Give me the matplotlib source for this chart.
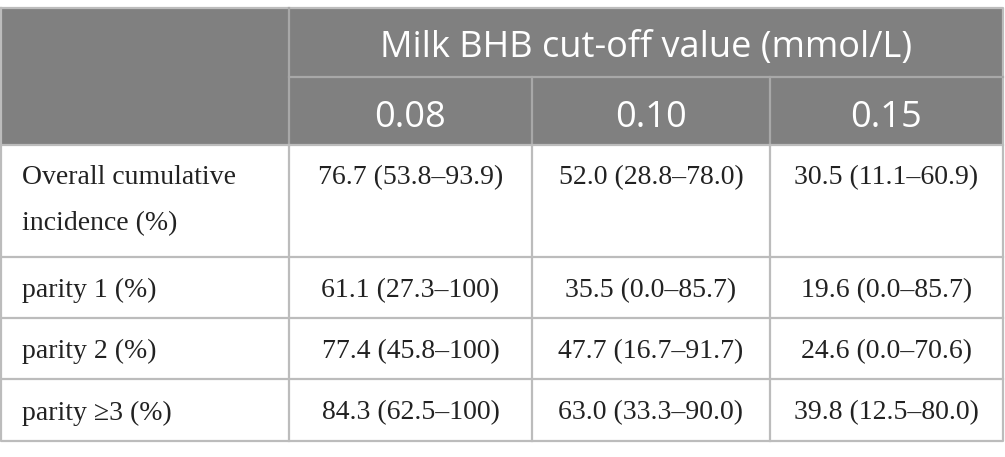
import matplotlib
matplotlib.use("Agg")
import matplotlib.pyplot as plt
from matplotlib.patches import Rectangle

# table content
group_title = "Milk BHB cut-off value (mmol/L)"
cutoffs = ["0.08", "0.10", "0.15"]
row_labels = ["Overall cumulative\nincidence (%)", "parity 1 (%)", "parity 2 (%)", "parity \u22653 (%)"]
col_008 = ["76.7 (53.8\u201393.9)", "61.1 (27.3\u2013100)", "77.4 (45.8\u2013100)", "84.3 (62.5\u2013100)"]
col_010 = ["52.0 (28.8\u201378.0)", "35.5 (0.0\u201385.7)", "47.7 (16.7\u201391.7)", "63.0 (33.3\u201390.0)"]
col_015 = ["30.5 (11.1\u201360.9)", "19.6 (0.0\u201385.7)", "24.6 (0.0\u201370.6)", "39.8 (12.5\u201380.0)"]

# layout in pixels
W, H = 1005, 457
col_x = [1, 289, 532, 770, 1003]
row_y = [8, 77, 145, 257, 318, 379, 441]
header_bg = "#808080"
line_col = "#bcbcbc"

fig = plt.figure(figsize=(W / 100, H / 100), dpi=100)
ax = fig.add_axes([0, 0, 1, 1])
ax.set_xlim(0, W)
ax.set_ylim(H, 0)
ax.axis("off")

ax.add_patch(Rectangle((col_x[0], row_y[0]), col_x[-1] - col_x[0], row_y[2] - row_y[0],
                       facecolor=header_bg, edgecolor="none"))

hfont = dict(family="Open Sans", color="white", fontsize=26)
bfont = dict(family="Liberation Serif", color="#222222", fontsize=20)

ax.text((col_x[1] + col_x[-1]) / 2, row_y[0] + 49, group_title,
        ha="center", va="baseline", **hfont)
for i, c in enumerate(cutoffs):
    ax.text((col_x[i + 1] + col_x[i + 2]) / 2, row_y[1] + 50, c,
            ha="center", va="baseline", **hfont)

cols = [col_008, col_010, col_015]
for r, lab in enumerate(row_labels):
    y0, y1 = row_y[r + 2], row_y[r + 3]
    if "\n" in lab:
        lines = lab.split("\n")
        yc = y0 + 33
        ax.text(col_x[0] + 21, yc, lines[0], ha="left", va="center", **bfont)
        ax.text(col_x[0] + 21, yc + 46, lines[1], ha="left", va="center", **bfont)
    else:
        yc = (y0 + y1) / 2 + 3
        ax.text(col_x[0] + 21, yc, lab, ha="left", va="center", **bfont)
    for j, col in enumerate(cols):
        ax.text((col_x[j + 1] + col_x[j + 2]) / 2, yc, col[r], ha="center", va="center", **bfont)

lw = 1.6
# outer border
ax.plot([col_x[0], col_x[-1], col_x[-1], col_x[0], col_x[0]],
        [row_y[0], row_y[0], row_y[-1], row_y[-1], row_y[0]], color=line_col, lw=lw)
# header lines
ax.plot([col_x[1], col_x[1]], [row_y[0], row_y[2]], color="#a8a8a8", lw=lw)
ax.plot([col_x[1], col_x[-1]], [row_y[1], row_y[1]], color="#a8a8a8", lw=lw)
for x in col_x[2:-1]:
    ax.plot([x, x], [row_y[1], row_y[2]], color="#a8a8a8", lw=lw)
# body lines
for y in row_y[2:-1]:
    ax.plot([col_x[0], col_x[-1]], [y, y], color=line_col, lw=lw)
for x in col_x[1:-1]:
    ax.plot([x, x], [row_y[2], row_y[-1]], color=line_col, lw=lw)

fig.savefig("out.png", dpi=100, facecolor="white")
